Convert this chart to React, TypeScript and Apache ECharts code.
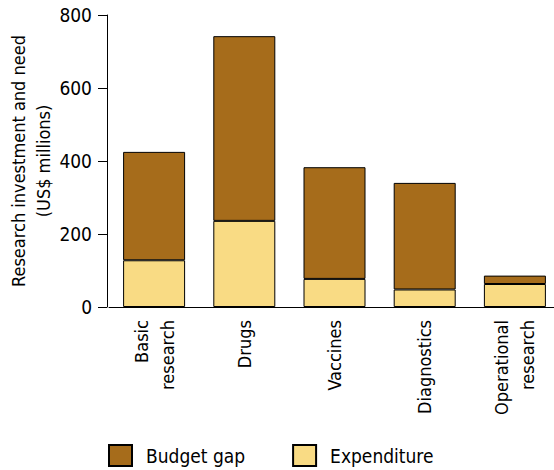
import React, { useEffect, useRef } from "react";
import * as echarts from "echarts";

const categories = ["Basic\nresearch", "Drugs", "Vaccines", "Diagnostics", "Operational\nresearch"];
const expenditure = [128, 236, 77, 48, 63];
const budgetGap = [297, 506, 306, 292, 23];
const yTicks = [0, 200, 400, 600, 800];

const FONT = "'DejaVu Sans Condensed', 'Liberation Sans Narrow', sans-serif";

export default function App() {
  const ref = useRef<HTMLDivElement>(null);
  useEffect(() => {
    const chart = echarts.init(ref.current!, null, { renderer: "svg" });
    chart.setOption({
      animation: false,
      textStyle: { fontFamily: FONT, color: "#000" },
      grid: {
        left: 109,
        top: 15,
        bottom: 163,
        right: -6,
        containLabel: false,
        outerBoundsMode: "none",
      },
      legend: {
        data: ["Budget gap", "Expenditure"],
        left: 103,
        top: 439,
        itemWidth: 23,
        itemHeight: 21,
        itemGap: 47,
        icon: "rect",
        textStyle: { fontFamily: FONT, fontSize: 19, color: "#000", padding: [0, 0, 0, 9] },
      },
      xAxis: {
        type: "category",
        data: categories,
        axisLine: { lineStyle: { color: "#000", width: 1 } },
        axisTick: { show: false },
        axisLabel: {
          rotate: 90,
          margin: 13,
          fontSize: 18,
          lineHeight: 26,
          color: "#000",
          fontFamily: FONT,
        },
      },
      yAxis: {
        type: "value",
        offset: 2,
        min: yTicks[0],
        max: yTicks[yTicks.length - 1],
        interval: 200,
        name: "Research investment and need\n(US$ millions)",
        nameLocation: "middle",
        nameGap: 51,
        nameMoveOverlap: false,
        nameRotate: 90,
        nameTextStyle: { fontSize: 18, lineHeight: 25, color: "#000", fontFamily: FONT },
        splitLine: { show: false },
        axisLine: { show: true, lineStyle: { color: "#000", width: 1 } },
        axisTick: { show: true, length: 9, lineStyle: { color: "#000" } },
        axisLabel: { fontSize: 19, margin: 15, color: "#000", fontFamily: FONT },
      },
      series: [
        {
          name: "Expenditure",
          type: "bar",
          stack: "total",
          barWidth: 62,
          data: expenditure,
          itemStyle: { color: "#F9DB84", borderColor: "#000", borderWidth: 1 },
        },
        {
          name: "Budget gap",
          type: "bar",
          stack: "total",
          barWidth: 62,
          data: budgetGap,
          itemStyle: { color: "#A66C1B", borderColor: "#000", borderWidth: 1 },
        },
      ],
    });
    return () => chart.dispose();
  }, []);
  return (
    <div
      ref={ref}
      style={{ position: "fixed", left: 0, top: 0, width: 554, height: 470, background: "#fff" }}
    />
  );
}
